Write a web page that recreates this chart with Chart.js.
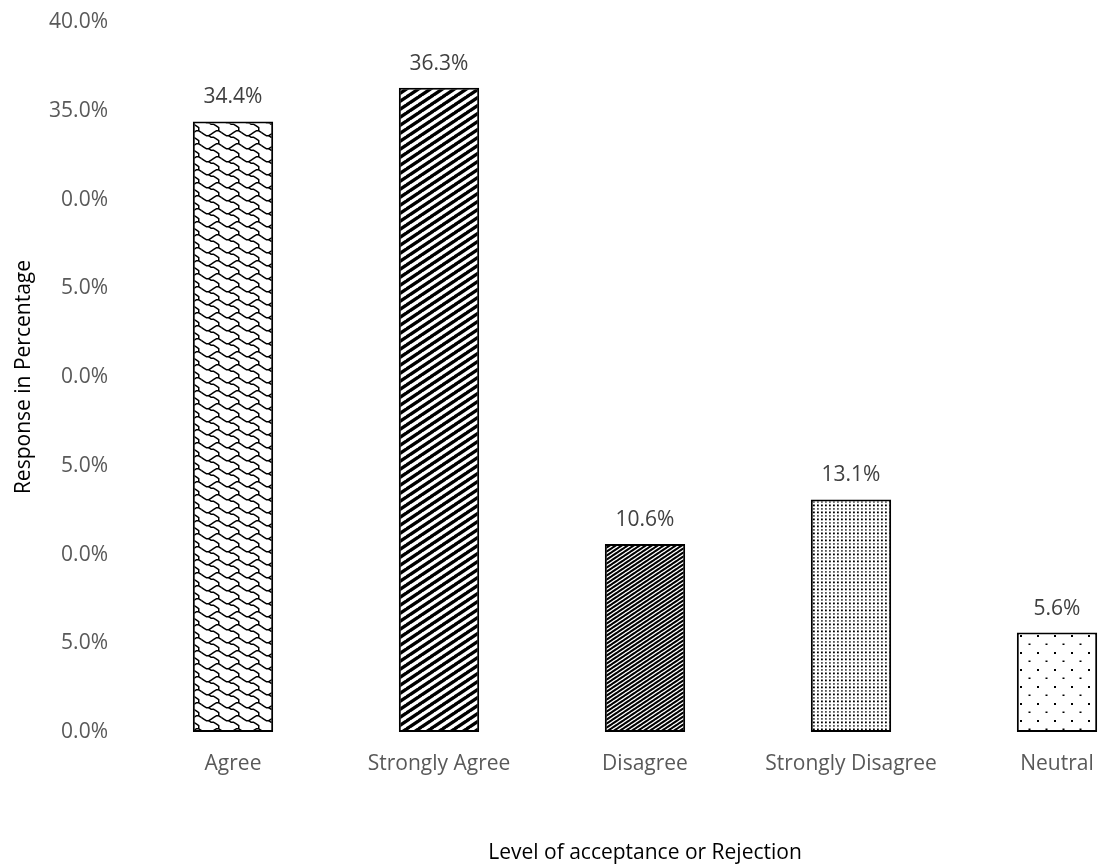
<!DOCTYPE html>
<html>
<head>
<meta charset="utf-8">
<script src="https://cdn.jsdelivr.net/npm/chart.js@4"></script>
<style>
  html, body { margin: 0; padding: 0; background: #fff; overflow: hidden; width: 1100px; height: 866px; }
  canvas { display: block; }
</style>
</head>
<body>
<canvas id="chart" width="1200" height="866"></canvas>
<script>
// Survey responses by level of acceptance
const categories = ['Agree', 'Strongly Agree', 'Disagree', 'Strongly Disagree', 'Neutral'];
const responsePct = [34.4, 36.3, 10.6, 13.1, 5.6];
const tickValues = [0, 5, 10, 15, 20, 25, 30, 35, 40];
const tickLabels = ['0.0%', '5.0%', '0.0%', '5.0%', '0.0%', '5.0%', '0.0%', '35.0%', '40.0%'];

const FONT = "'Open Sans', 'Noto Sans', sans-serif";
const canvas = document.getElementById('chart');
const ctx = canvas.getContext('2d');

function makePattern(w, h, draw) {
  const c = document.createElement('canvas');
  c.width = w; c.height = h;
  const g = c.getContext('2d');
  g.fillStyle = '#fff';
  g.fillRect(0, 0, w, h);
  g.fillStyle = '#000';
  g.strokeStyle = '#000';
  draw(g, w, h);
  return ctx.createPattern(c, 'repeat');
}

// upward diagonal stripes, one stripe per tile, drawn with wrap copies
function diagonal(lineWidth) {
  return (g, w, h) => {
    g.lineWidth = lineWidth;
    g.lineCap = 'square';
    for (const dx of [-w, 0, w]) {
      g.beginPath();
      g.moveTo(dx, h);
      g.lineTo(dx + w, 0);
      g.stroke();
    }
  };
}

// shingle hatch: a chain of "V" arcs with a tail running down-right to the next row
function shingle(g, w, h) {
  const sx = w / 8, sy = h / 8;
  const arc = [[0, 1], [1, 2], [2, 3], [3, 3], [4, 2], [5, 1], [6, 0], [7, 0], [8, 1]];
  const tail = [[3, 3], [4, 4], [5, 4], [6, 5], [7, 6], [7, 7], [7, 8]];
  g.lineWidth = 1.5;
  g.lineJoin = 'round';
  for (const ox of [-w, 0, w]) {
    for (const oy of [-h, 0, h]) {
      for (const pts of [arc, tail]) {
        g.beginPath();
        pts.forEach(([px, py], k) => {
          const x = ox + (px + 0.5) * sx, y = oy + (py + 0.5) * sy;
          if (k === 0) g.moveTo(x, y); else g.lineTo(x, y);
        });
        g.stroke();
      }
    }
  }
}

function fineDots(g, w, h) {
  g.fillStyle = '#000';
  g.fillRect(1, 0.5, 1.8, 1.8);
  g.fillStyle = '#555';
  g.fillRect(1, 4, 1.8, 1.8);
}

function sparseDots(g, w, h) {
  g.fillStyle = '#000';
  g.fillRect(0, 6, 2, 2);
  g.fillRect(8.5, 14.5, 2, 1.5);
}

const fills = [
  makePattern(20, 13, shingle),
  makePattern(12, 8, diagonal(3.4)),
  makePattern(6, 4, diagonal(2.1)),
  makePattern(4, 7, fineDots),
  makePattern(17, 17, sparseDots)
];

const valueLabels = {
  id: 'valueLabels',
  afterDatasetsDraw(chart) {
    const c = chart.ctx;
    const meta = chart.getDatasetMeta(0);
    c.save();
    c.font = `21px ${FONT}`;
    c.fillStyle = '#404040';
    c.textAlign = 'center';
    c.textBaseline = 'middle';
    meta.data.forEach((bar, i) => {
      c.fillText(responsePct[i].toFixed(1) + '%', bar.x, bar.y - 24);
    });
    c.restore();
  }
};

new Chart(ctx, {
  type: 'bar',
  data: {
    labels: categories,
    datasets: [{
      data: responsePct,
      backgroundColor: fills,
      borderColor: '#000',
      borderWidth: 2,
      borderSkipped: false,
      categoryPercentage: 1,
      barPercentage: 0.39
    }]
  },
  options: {
    responsive: false,
    animation: false,
    layout: { padding: { top: 21, right: 40, bottom: 0, left: 0 } },
    plugins: { legend: { display: false }, tooltip: { enabled: false } },
    scales: {
      x: {
        grid: { display: false, drawTicks: false },
        border: { display: false },
        ticks: { color: '#595959', font: { family: FONT, size: 21 }, padding: 19, maxRotation: 0 },
        title: {
          display: true,
          text: 'Level of acceptance or Rejection',
          color: '#000',
          font: { family: FONT, size: 21 },
          padding: { top: 0, bottom: 0 }
        },
        afterFit(scale) { scale.height = 134; }
      },
      y: {
        min: 0,
        max: 40,
        grid: { display: false, drawTicks: false },
        border: { display: false },
        ticks: {
          stepSize: 5,
          color: '#595959',
          font: { family: FONT, size: 21, lineHeight: 0.01 },
          padding: 22,
          callback: (v) => {
            const i = tickValues.indexOf(v);
            return i >= 0 ? tickLabels[i] : '';
          }
        },
        title: {
          display: true,
          text: 'Response in Percentage',
          color: '#000',
          font: { family: FONT, size: 21 },
          padding: { top: 11, bottom: 0 }
        },
        afterFit(scale) { scale.width = 130; }
      }
    }
  },
  plugins: [valueLabels]
});
</script>
</body>
</html>
